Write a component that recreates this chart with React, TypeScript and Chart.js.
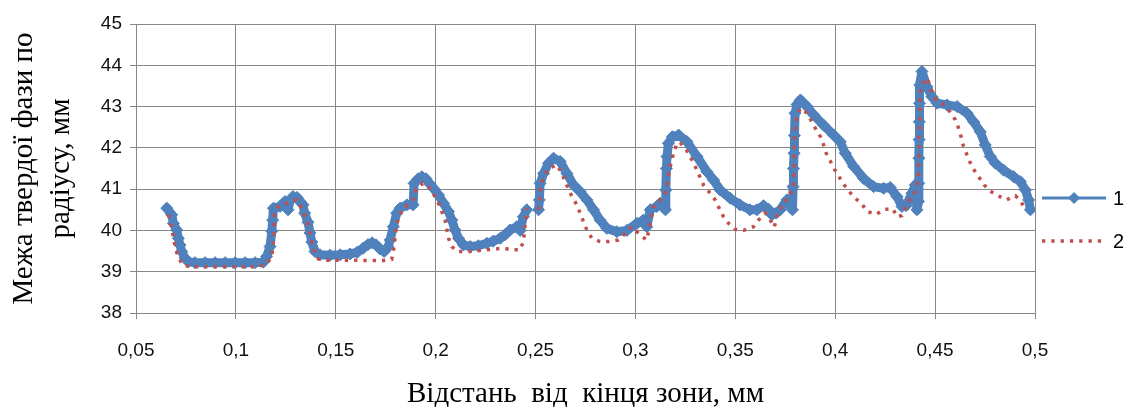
import React, { useEffect, useRef } from "react";
import { Chart, registerables } from "chart.js";

Chart.register(...registerables);

const xTickMin = 0.05;
const xTickMax = 0.5;
const xTickStep = 0.05;
const yTickMin = 38;
const yTickMax = 45;
const yTickStep = 1;

const series1Label = "1";
const series2Label = "2";
const xAxisTitle = "Відстань  від  кінця зони, мм";
const yAxisTitleLines = ["Межа твердої фази по", "радіусу, мм"];

const s1X = [
  0.0654, 0.0679, 0.0687, 0.0704, 0.0712, 0.072, 0.0729, 0.0745, 0.0762, 0.0795,
  0.0846, 0.0896, 0.0946, 0.0996, 0.1046, 0.1096, 0.1137, 0.1154, 0.1171, 0.118,
  0.1184, 0.1188, 0.1221, 0.1246, 0.1261, 0.1271, 0.1286, 0.1306, 0.1321, 0.1336,
  0.1344, 0.1361, 0.1371, 0.138, 0.1396, 0.1421, 0.1471, 0.1522, 0.1572, 0.1607,
  0.1637, 0.1662, 0.1682, 0.1702, 0.1722, 0.1742, 0.1762, 0.1772, 0.1788, 0.1805,
  0.1822, 0.1856, 0.1887, 0.1892, 0.1912, 0.1931, 0.1952, 0.1972, 0.1989, 0.2014,
  0.2039, 0.2064, 0.2081, 0.2097, 0.2114, 0.2139, 0.2173, 0.2213, 0.2256, 0.2288,
  0.2323, 0.2348, 0.2373, 0.2406, 0.2423, 0.2439, 0.2456, 0.2485, 0.2515, 0.2519,
  0.2523, 0.254, 0.2565, 0.259, 0.2623, 0.2657, 0.269, 0.2723, 0.2757, 0.279,
  0.2823, 0.2857, 0.2907, 0.2957, 0.3007, 0.304, 0.3057, 0.3074, 0.3107, 0.3124,
  0.315, 0.3152, 0.3155, 0.3158, 0.3165, 0.3185, 0.3216, 0.3258, 0.3308, 0.3358,
  0.3391, 0.3424, 0.3474, 0.3523, 0.3573, 0.3608, 0.3641, 0.3665, 0.3683, 0.3705,
  0.3725, 0.3758, 0.3786, 0.3789, 0.3791, 0.3794, 0.3796, 0.3799, 0.3809, 0.3826,
  0.3859, 0.3892, 0.3942, 0.3992, 0.4025, 0.405, 0.4092, 0.4142, 0.4192, 0.4242,
  0.4275, 0.4309, 0.4334, 0.4355, 0.4384, 0.4401, 0.4409, 0.4417, 0.4418, 0.4419,
  0.442, 0.4421, 0.4422, 0.4423, 0.4434, 0.4459, 0.4484, 0.451, 0.456, 0.461,
  0.466, 0.4693, 0.4726, 0.4751, 0.4776, 0.4801, 0.4843, 0.4893, 0.4927, 0.4952,
  0.4968, 0.4977,
];
const s1Y = [
  40.54, 40.38, 40.17, 40.01, 39.81, 39.65, 39.49, 39.33, 39.24, 39.22,
  39.22, 39.22, 39.22, 39.22, 39.22, 39.22, 39.23, 39.37, 39.61, 39.98,
  40.25, 40.54, 40.58, 40.7, 40.5, 40.72, 40.82, 40.8, 40.7, 40.62,
  40.42, 40.2, 39.94, 39.72, 39.49, 39.41, 39.4, 39.41, 39.43, 39.47,
  39.57, 39.66, 39.7, 39.65, 39.55, 39.49, 39.6, 39.77, 40.09, 40.42,
  40.54, 40.62, 40.62, 41.14, 41.25, 41.3, 41.25, 41.12, 41.02, 40.86,
  40.66, 40.46, 40.25, 40.01, 39.81, 39.65, 39.61, 39.63, 39.69, 39.74,
  39.81, 39.9, 40.01, 40.09, 40.0, 40.33, 40.5, null, 40.5, 40.74,
  41.14, 41.38, 41.63, 41.75, 41.67, 41.38, 41.1, 40.94, 40.74, 40.5,
  40.25, 40.05, 39.97, 40.0, 40.17, 40.25, 40.09, 40.5, 40.58, 40.66,
  40.5, 40.98, 41.5, 41.79, 42.11, 42.27, 42.31, 42.15, 41.79, 41.42,
  41.22, 40.98, 40.78, 40.62, 40.5, 40.5, 40.6, 40.52, 40.38, 40.42,
  40.5, 40.74, 40.5, 41.06, 41.5, 41.87, 42.3, 42.84, 43.05, 43.16,
  43.0, 42.8, 42.55, 42.31, 42.15, 41.87, 41.55, 41.26, 41.06, 41.02,
  41.04, 40.82, 40.58, 40.6, 40.9, 41.1, 40.5, 40.7, 41.14, 41.75,
  42.2, 42.63, 43.08, 43.52, 43.85, 43.48, 43.24, 43.08, 43.04, 43.0,
  42.84, 42.63, 42.39, 42.07, 41.79, 41.63, 41.46, 41.3, 41.18, 40.98,
  40.74, 40.5,
];

const s2X = [
  0.0662, 0.0674, 0.0682, 0.069, 0.0699, 0.0712, 0.0737, 0.0784, 0.085, 0.095,
  0.105, 0.1107, 0.1154, 0.118, 0.1189, 0.1191, 0.1194, 0.1213, 0.1255, 0.1281,
  0.1305, 0.133, 0.1346, 0.1361, 0.1371, 0.1381, 0.1391, 0.1413, 0.1446, 0.1522,
  0.1597, 0.1672, 0.1737, 0.178, 0.1788, 0.1793, 0.1798, 0.1805, 0.1812, 0.1838,
  0.1872, 0.1897, 0.1902, 0.1936, 0.1962, 0.1992, 0.2014, 0.203, 0.2047, 0.2055,
  0.2064, 0.2081, 0.2106, 0.2173, 0.2248, 0.2298, 0.2339, 0.2381, 0.2423, 0.2439,
  0.2445, 0.245, 0.2456, 0.2485, 0.2515, 0.2523, 0.2528, 0.2548, 0.2565, 0.2607,
  0.2632, 0.2648, 0.2682, 0.2707, 0.2723, 0.274, 0.2757, 0.2782, 0.2823, 0.2865,
  0.2915, 0.2949, 0.2982, 0.3024, 0.3057, 0.3074, 0.309, 0.3124, 0.3157, 0.3164,
  0.3181, 0.3207, 0.3223, 0.3241, 0.3266, 0.3308, 0.3341, 0.3374, 0.3399, 0.3419,
  0.3441, 0.3466, 0.3499, 0.3541, 0.3591, 0.3616, 0.365, 0.3675, 0.3695, 0.3716,
  0.375, 0.3766, 0.3791, 0.3793, 0.3794, 0.3796, 0.38, 0.3808, 0.3826, 0.3859,
  0.3901, 0.3926, 0.3942, 0.3955, 0.3997, 0.4042, 0.407, 0.41, 0.4134, 0.4159,
  0.4206, 0.4246, 0.4289, 0.4309, 0.4334, 0.4351, 0.4376, 0.4401, 0.4418, 0.4419,
  0.442, 0.4422, 0.4423, 0.4434, 0.4451, 0.4472, 0.4484, 0.4506, 0.4546, 0.4573,
  0.4601, 0.4618, 0.463, 0.464, 0.4656, 0.4673, 0.4693, 0.4718, 0.4746, 0.4773,
  0.4815, 0.4857, 0.4902, 0.493, 0.4952,
];
const s2Y = [
  40.38, 40.17, 39.97, 39.75, 39.54, 39.34, 39.15, 39.12, 39.12, 39.12,
  39.12, 39.12, 39.19, 39.37, 39.8, 40.2, 40.43, 40.58, 40.66, 40.72,
  40.74, 40.54, 40.33, 40.13, 39.89, 39.69, 39.53, 39.31, 39.28, 39.28,
  39.28, 39.27, 39.27, 39.3, 39.49, 39.66, 39.9, 40.13, 40.3, 40.54,
  40.66, 40.82, 41.0, 41.14, 41.08, 40.86, 40.66, 40.46, 40.25, 40.05,
  39.81, 39.61, 39.49, 39.49, 39.53, 39.55, 39.57, 39.53, 39.53, 39.73,
  40.0, 40.3, 40.54, null, 40.5, 40.9, 41.14, 41.34, 41.5, 41.59,
  41.38, 41.18, 40.82, 40.62, 40.42, 40.21, 40.01, 39.81, 39.73, 39.73,
  39.77, 39.93, 40.09, 39.89, 39.77, 40.17, 40.58, 40.74, 40.98, 41.3,
  41.71, 42.11, 42.13, 42.03, 41.87, 41.46, 41.1, 40.9, 40.74, 40.54,
  40.33, 40.17, 40.03, 40.0, 40.09, 40.25, 40.42, 40.25, 40.08, 40.5,
  40.66, 40.86, 40.98, 41.3, 41.67, 42.11, 42.51, 42.76, 42.96, 42.84,
  42.47, 42.27, 42.07, 41.87, 41.48, 41.12, 40.94, 40.78, 40.64, 40.46,
  40.39, 40.51, 40.52, 40.33, 40.36, 40.54, 40.78, 40.94, 41.3, 41.95,
  42.43, 42.84, 43.28, 43.48, 43.69, 43.56, 43.34, 43.16, 43.04, 42.88,
  42.68, 42.47, 42.27, 42.07, 41.87, 41.67, 41.48, 41.3, 41.1, 40.96,
  40.84, 40.74, 40.84, 40.7, 40.5,
];

const BLUE = "#4F81BD";
const RED = "#C0504D";
const GRID = "#868686";

const formatTick = (v: number) =>
  Number(Number(v).toFixed(2)).toString().replace(".", ",");

const decorPlugin = {
  id: "decor",
  afterDraw(chart: any) {
    const ctx = chart.ctx as CanvasRenderingContext2D;
    const area = chart.chartArea;
    const cy = (area.top + area.bottom) / 2;
    const cx = (area.left + area.right) / 2;
    ctx.save();
    ctx.fillStyle = "#000";
    ctx.font = "29px 'Liberation Serif', 'DejaVu Serif', serif";
    ctx.textAlign = "center";
    ctx.textBaseline = "middle";
    const lineX = [24, 61];
    yAxisTitleLines.forEach((t, i) => {
      ctx.save();
      ctx.translate(lineX[i], cy);
      ctx.rotate(-Math.PI / 2);
      ctx.fillText(t, 0, 0);
      ctx.restore();
    });
    ctx.fillText(xAxisTitle, cx, 394);

    // legend
    const lx0 = area.right + 7;
    const lx1 = area.right + 71;
    const ly1 = 198;
    const ly2 = 241;
    ctx.strokeStyle = BLUE;
    ctx.lineWidth = 3;
    ctx.beginPath();
    ctx.moveTo(lx0, ly1);
    ctx.lineTo(lx1, ly1);
    ctx.stroke();
    ctx.fillStyle = BLUE;
    const dx = (lx0 + lx1) / 2;
    const r = 6;
    ctx.beginPath();
    ctx.moveTo(dx - r, ly1);
    ctx.lineTo(dx, ly1 - r);
    ctx.lineTo(dx + r, ly1);
    ctx.lineTo(dx, ly1 + r);
    ctx.closePath();
    ctx.fill();

    ctx.strokeStyle = RED;
    ctx.lineWidth = 3.5;
    ctx.setLineDash([3.3, 6]);
    ctx.beginPath();
    ctx.moveTo(lx0, ly2);
    ctx.lineTo(lx1 - 2, ly2);
    ctx.stroke();
    ctx.setLineDash([]);

    ctx.fillStyle = "#000";
    ctx.font = "20px 'Liberation Sans', Arial, sans-serif";
    ctx.textAlign = "left";
    ctx.fillText(series1Label, area.right + 78, ly1 + 1);
    ctx.fillText(series2Label, area.right + 78, ly2 + 1);
    ctx.restore();
  },
};

const bgPlugin = {
  id: "bg",
  beforeDraw(chart: any) {
    const ctx = chart.ctx;
    ctx.save();
    ctx.fillStyle = "#fff";
    ctx.fillRect(0, 0, chart.width, chart.height);
    ctx.restore();
  },
};

export default function App() {
  const ref = useRef<HTMLCanvasElement | null>(null);
  useEffect(() => {
    if (!ref.current) return;
    const d1 = s1X.map((x, i) => ({ x, y: s1Y[i] }));
    const d2 = s2X.map((x, i) => ({ x, y: s2Y[i] }));
    const chart = new Chart(ref.current, {
      type: "line",
      data: {
        datasets: [
          {
            label: series1Label,
            data: d1 as any,
            borderColor: BLUE,
            backgroundColor: BLUE,
            borderWidth: 9,
            borderJoinStyle: "round",
            borderCapStyle: "round",
            pointStyle: "rectRot",
            pointRadius: 6,
            pointBorderWidth: 1,
            pointBackgroundColor: BLUE,
            pointBorderColor: BLUE,
            tension: 0,
            spanGaps: false,
            order: 2,
          },
          {
            label: series2Label,
            data: d2 as any,
            borderColor: RED,
            backgroundColor: RED,
            borderWidth: 3.5,
            borderDash: [3.3, 6],
            pointRadius: 0,
            tension: 0,
            spanGaps: false,
            order: 1,
          },
        ],
      },
      options: {
        responsive: false,
        animation: false,
        devicePixelRatio: 1,
        layout: { padding: { top: 24, right: 90, left: 0, bottom: 0 } },
        plugins: {
          legend: { display: false },
          tooltip: { enabled: false },
          title: { display: false },
        },
        scales: {
          x: {
            type: "linear",
            min: xTickMin,
            max: xTickMax,
            afterFit: (s: any) => {
              s.height = 94;
            },
            ticks: {
              stepSize: xTickStep,
              callback: (v: any) => formatTick(v),
              color: "#111",
              font: { family: "'Liberation Sans', Arial, sans-serif", size: 19 },
              padding: 20,
              maxRotation: 0,
              autoSkip: false,
            },
            grid: { color: GRID, lineWidth: 1, tickLength: 6, tickColor: GRID },
            border: { color: GRID, width: 1 },
          },
          y: {
            type: "linear",
            min: yTickMin,
            max: yTickMax,
            afterFit: (s: any) => {
              s.width = 136;
            },
            ticks: {
              stepSize: yTickStep,
              color: "#111",
              font: { family: "'Liberation Sans', Arial, sans-serif", size: 19 },
              padding: 8,
            },
            grid: { color: GRID, lineWidth: 1, tickLength: 6, tickColor: GRID },
            border: { color: GRID, width: 1 },
          },
        },
      },
      plugins: [bgPlugin, decorPlugin],
    });
    return () => chart.destroy();
  }, []);
  return (
    <div style={{ position: "fixed", left: 0, top: 0, width: 1125, height: 407, background: "#fff" }}>
      <canvas ref={ref} width={1125} height={407} style={{ display: "block" }} />
    </div>
  );
}
